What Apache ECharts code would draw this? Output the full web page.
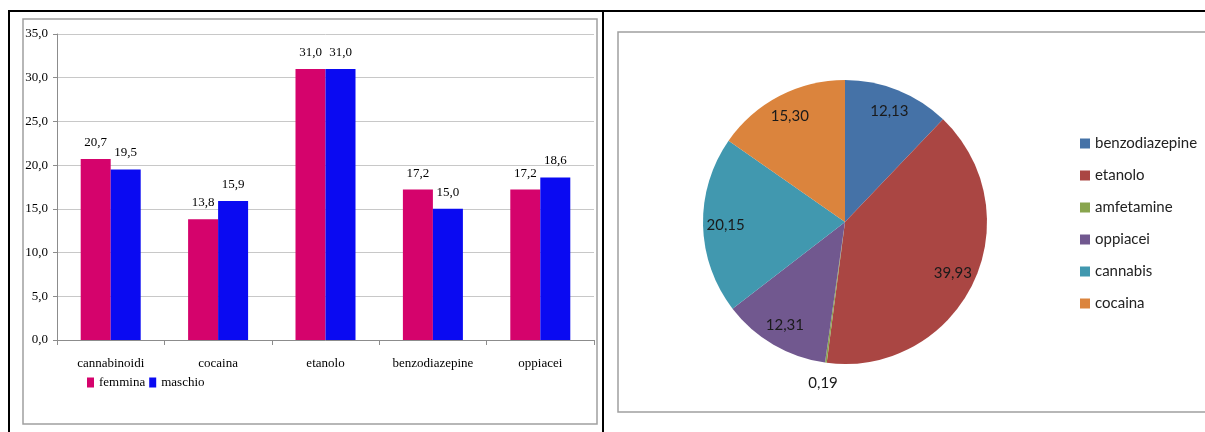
<!DOCTYPE html>
<html>
<head>
<meta charset="utf-8">
<script src="https://cdn.jsdelivr.net/npm/echarts@6/dist/echarts.min.js"></script>
<style>
html,body{margin:0;padding:0;background:#fff;}
#c{width:1205px;height:432px;}
</style>
</head>
<body>
<div id="c"></div>
<script>
// ---- data ----
const categories = ['cannabinoidi', 'cocaina', 'etanolo', 'benzodiazepine', 'oppiacei'];
const barSeriesNames = ['femmina', 'maschio'];
const femmina = [20.7, 13.8, 31.0, 17.2, 17.2];
const maschio = [19.5, 15.9, 31.0, 15.0, 18.6];
const yMin = 0, yMax = 35, yStep = 5;

const pieNames = ['benzodiazepine', 'etanolo', 'amfetamine', 'oppiacei', 'cannabis', 'cocaina'];
const pieValues = [12.13, 39.93, 0.19, 12.31, 20.15, 15.30];
const pieColors = ['#4572A7', '#AA4643', '#89A54E', '#71588F', '#4198AF', '#DB843D'];

// ---- helpers ----
const comma = (v, d) => Number(v).toFixed(d).replace('.', ',');
const serif = "'Liberation Serif', 'Times New Roman', serif";
const sans = "Lato, 'Open Sans', sans-serif";
const PIE_R = 142;
const PIE_C = [845, 222];
const LABEL_RATIO = 0.82; // inside labels at ~82% of radius

const pieMain = pieNames.map((n, i) => ({
  name: n,
  value: pieValues[i],
  itemStyle: { color: pieColors[i] },
  label: pieValues[i] < 1 ? { show: true } : { show: false }
}));
const pieLabels = pieNames.map((n, i) => ({
  name: n,
  value: pieValues[i],
  label: { show: pieValues[i] >= 1 }
}));

const chart = echarts.init(document.getElementById('c'), null, { renderer: 'canvas' });
chart.setOption({
  animation: false,
  backgroundColor: '#fff',
  graphic: [
    { type: 'rect', z: 0, shape: { x: 23, y: 19, width: 574, height: 405 }, style: { fill: 'none', stroke: '#a0a0a0', lineWidth: 1.5 } },
    { type: 'rect', z: 0, shape: { x: 618, y: 32, width: 620, height: 380 }, style: { fill: 'none', stroke: '#a0a0a0', lineWidth: 1.5 } },
    { type: 'line', z: 10, shape: { x1: 8, y1: 11, x2: 1205, y2: 11 }, style: { stroke: '#000', lineWidth: 2 } },
    { type: 'line', z: 10, shape: { x1: 9, y1: 10, x2: 9, y2: 432 }, style: { stroke: '#000', lineWidth: 2 } },
    { type: 'line', z: 10, shape: { x1: 603, y1: 10, x2: 603, y2: 432 }, style: { stroke: '#000', lineWidth: 2 } }
  ],
  legend: [
    {
      data: barSeriesNames,
      left: 82, top: 371,
      orient: 'horizontal',
      icon: 'rect',
      itemWidth: 7, itemHeight: 10, itemGap: 4,
      textStyle: { fontFamily: serif, fontSize: 13, color: '#000' },
      selectedMode: false
    },
    {
      data: pieNames,
      left: 1075, top: 131,
      orient: 'vertical',
      icon: 'rect',
      itemWidth: 10, itemHeight: 10, itemGap: 17,
      textStyle: { fontFamily: sans, fontSize: 15, color: '#222' },
      selectedMode: false
    }
  ],
  grid: { left: 57, top: 34, width: 537, height: 306, containLabel: false },
  xAxis: {
    type: 'category',
    data: categories,
    axisLine: { lineStyle: { color: '#8c8c8c' } },
    axisTick: { show: true, length: 5, lineStyle: { color: '#8c8c8c' } },
    axisLabel: { fontFamily: serif, fontSize: 13, color: '#000', margin: 17 }
  },
  yAxis: {
    type: 'value',
    min: yMin, max: yMax, interval: yStep,
    axisLine: { show: true, lineStyle: { color: '#8c8c8c' } },
    axisTick: { show: true, length: 4, lineStyle: { color: '#8c8c8c' } },
    splitLine: { lineStyle: { color: '#c8c8c8' } },
    axisLabel: { fontFamily: serif, fontSize: 13, color: '#000', margin: 9, formatter: v => comma(v, 1) }
  },
  series: [
    {
      name: barSeriesNames[0], type: 'bar', data: femmina,
      barWidth: 30, barGap: '0%',
      itemStyle: { color: '#D5036C' },
      label: { show: true, position: 'top', distance: 10, fontFamily: serif, fontSize: 13, color: '#000', formatter: p => comma(p.value, 1) }
    },
    {
      name: barSeriesNames[1], type: 'bar', data: maschio,
      barWidth: 30, barGap: '0%',
      itemStyle: { color: '#0A0AF2' },
      label: { show: true, position: 'top', distance: 10, fontFamily: serif, fontSize: 13, color: '#000', formatter: p => comma(p.value, 1) }
    },
    {
      name: 'pie', type: 'pie',
      center: PIE_C, radius: PIE_R,
      startAngle: 90, clockwise: true,
      avoidLabelOverlap: false,
      itemStyle: { borderWidth: 0 },
      emphasis: { disabled: true },
      label: { position: 'outside', fontFamily: sans, fontSize: 15, color: '#1a1a1a', distanceToLabelLine: 0, formatter: p => comma(p.value, 2) },
      labelLine: { show: false, length: 21, length2: 0 },
      labelLayout: () => ({ align: 'center' }),
      data: pieMain
    },
    {
      name: 'pieLabels', type: 'pie',
      center: PIE_C, radius: PIE_R * LABEL_RATIO * 2,
      startAngle: 90, clockwise: true,
      silent: true,
      avoidLabelOverlap: false,
      itemStyle: { color: 'rgba(0,0,0,0)', borderWidth: 0 },
      emphasis: { disabled: true },
      label: { position: 'inside', fontFamily: sans, fontSize: 15, color: '#1a1a1a', formatter: p => comma(p.value, 2) },
      labelLine: { show: false },
      data: pieLabels
    }
  ]
});
</script>
</body>
</html>
